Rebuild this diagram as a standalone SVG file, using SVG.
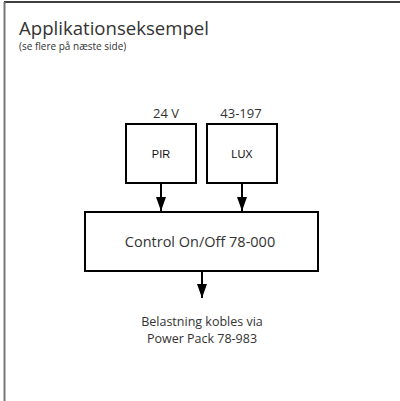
<svg xmlns="http://www.w3.org/2000/svg" width="400" height="401" viewBox="0 0 400 401">
<defs>
<marker id="ah" markerWidth="14" markerHeight="10" refX="14" refY="5" orient="auto" markerUnits="userSpaceOnUse" viewBox="0 0 14 10">
<path d="M0,0 L14,5 L0,10 Z" fill="#000"/>
</marker>
</defs>
<style>
.box{fill:#fff;stroke:#000;stroke-width:2}
.lbl{font-family:"Liberation Sans",Arial,sans-serif;fill:#111;text-anchor:middle}
.gs{font-family:"Open Sans","Liberation Sans",sans-serif;fill:#333}
.mid{text-anchor:middle}
.conn{stroke:#000;stroke-width:2;fill:none}
</style>
<rect width="400" height="401" fill="#fff"/>
<line x1="4" y1="2" x2="400" y2="2" stroke="#000" stroke-width="1.5"/>
<line x1="4.5" y1="2" x2="4.5" y2="401" stroke="#777" stroke-width="2"/>
<text class="gs" x="19" y="35" font-size="18.6">Applikationseksempel</text>
<text class="gs" x="19" y="50" font-size="10">(se flere på næste side)</text>
<text class="gs mid" x="166" y="118" font-size="13">24 V</text>
<text class="gs mid" x="241" y="118" font-size="13">43-197</text>
<g id="pir">
<rect class="box" x="126" y="124" width="70" height="59"/>
<text class="lbl" x="161" y="158" font-size="11">PIR</text>
</g>
<g id="lux">
<rect class="box" x="207" y="124" width="70" height="59"/>
<text class="lbl" x="242" y="158" font-size="11">LUX</text>
</g>
<g id="control">
<rect class="box" x="85" y="212" width="233" height="59"/>
<text class="gs mid" x="200" y="247" font-size="14.5">Control On/Off 78-000</text>
</g>
<g id="load">
<text class="gs mid" x="202" y="326" font-size="12.5">Belastning kobles via</text>
<text class="gs mid" x="202" y="343" font-size="12.5">Power Pack 78-983</text>
</g>
<g id="connectors">
<line class="conn" x1="161" y1="183" x2="161" y2="211" marker-end="url(#ah)"/>
<line class="conn" x1="242" y1="183" x2="242" y2="211" marker-end="url(#ah)"/>
<line class="conn" x1="202" y1="271" x2="202" y2="298" marker-end="url(#ah)"/>
</g>
</svg>
